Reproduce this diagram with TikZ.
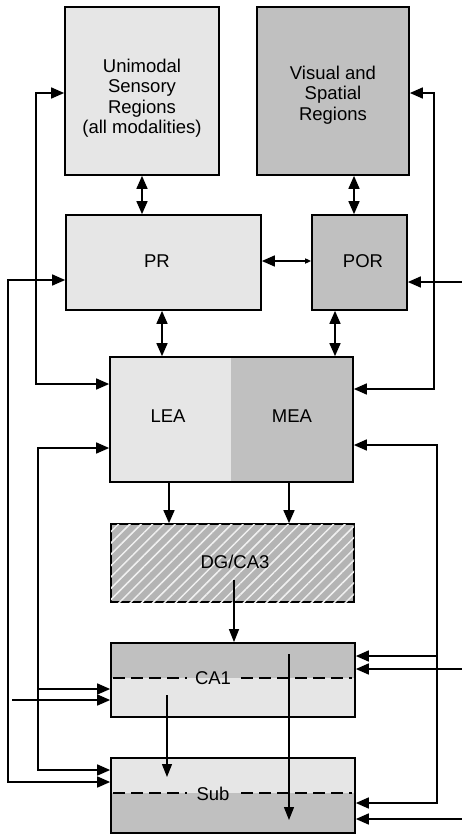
\documentclass[tikz,border=0pt]{standalone}
\usepackage{fontspec}
\setmainfont{Liberation Sans}
\usetikzlibrary{arrows.meta,patterns.meta}
\definecolor{lightg}{HTML}{E6E6E6}
\definecolor{darkg}{HTML}{C0C0C0}
\definecolor{dgg}{HTML}{B4B4B4}
\begin{document}
\begin{tikzpicture}[x=1pt,y=-1pt,
  box/.style={rectangle,draw,line width=1.7pt,inner sep=0pt,line join=miter},
  lbl/.style={font=\fontsize{18.5}{20.5}\selectfont,align=center,inner sep=0pt},
  arr/.style={line width=1.6pt,line join=miter,-{Triangle[length=13pt,width=11pt]}},
  dbl/.style={line width=1.6pt,line join=miter,{Triangle[length=13pt,width=11pt]}-{Triangle[length=13pt,width=11pt]}},
  thinarr/.style={line width=1.2pt,-{Triangle[length=13pt,width=10pt]}},
  dsh/.style={line width=1.3pt,dash pattern=on 12pt off 6pt}]
\fill[white] (0,0) rectangle (462,835);
\useasboundingbox (0,0) rectangle (462,835);
% boxes
\node[box,fill=lightg,minimum width=154pt,minimum height=168pt] (uni) at (142,91) {};
\node[box,fill=darkg,minimum width=152pt,minimum height=168pt] (vis) at (333,91) {};
\node[box,fill=lightg,minimum width=195pt,minimum height=95pt] (pr) at (163.5,262.5) {};
\node[box,fill=darkg,minimum width=95pt,minimum height=95pt] (por) at (359.5,262.5) {};
\fill[lightg] (110,357) rectangle (231,482);
\fill[darkg] (231,357) rectangle (353,482);
\node[box,minimum width=243pt,minimum height=125pt] (ea) at (231.5,419.5) {};
\node[box,fill=dgg,minimum width=243pt,minimum height=78pt,
  postaction={pattern={Lines[angle=45,distance=8pt,line width=1.5pt]},pattern color=white!80!dgg}] (dg) at (232.5,563) {};
\fill[darkg] (111,643) rectangle (355,678);
\fill[lightg] (111,678) rectangle (355,717);
\node[box,minimum width=244pt,minimum height=74pt] (ca1) at (233,680) {};
\fill[lightg] (111,758) rectangle (355,793);
\fill[darkg] (111,793) rectangle (355,833);
\node[box,minimum width=244pt,minimum height=75pt] (sub) at (233,795.5) {};
% dashed dividers
\draw[dsh] (113,678) -- (187,678);
\draw[dsh] (241,678) -- (352,678);
\draw[dsh] (113,793) -- (187,793);
\draw[dsh] (241,793) -- (352,793);
% labels
\node[lbl] (tuni) at (142,98) {Unimodal\\Sensory\\Regions\\(all modalities)};
\node[lbl] (tvis) at (333,95) {Visual and\\Spatial\\Regions};
\node[lbl] (tpr) at (157,261) {PR};
\node[lbl] (tpor) at (363,261) {POR};
\node[lbl] (tlea) at (168,416) {LEA};
\node[lbl] (tmea) at (292,416) {MEA};
\node[lbl] (tdg) at (235,562) {DG/CA3};
\node[lbl] (tca1) at (213,678) {CA1};
\node[lbl] (tsub) at (213,794) {Sub};
% connectors
\draw[dbl] (uni.south -| 142,0) -- (pr.north -| 142,0);
\draw[dbl] (vis.south -| 354,0) -- (por.north -| 354,0);
\draw[line width=1.6pt,{Triangle[length=13pt,width=11pt]}-{Triangle[length=6pt,width=5pt]}] (pr.east |- 0,261) -- (por.west |- 0,261);
\draw[dbl] (pr.south -| 162,0) -- (ea.north -| 162,0);
\draw[dbl] (por.south -| 335,0) -- (ea.north -| 335,0);
\draw[dbl] (uni.west |- 0,93) -- (36,93) -- (36,384) -- (ea.west |- 0,384);
\draw[dbl] (vis.east |- 0,93) -- (434,93) -- (434,389) -- (ea.east |- 0,389);
\draw[dbl] (pr.west |- 0,280) -- (8,280) -- (8,782) -- (sub.west |- 0,782);
\coordinate (inPOR) at (462,282);
\draw[arr] (inPOR) -- (por.east |- inPOR);
\draw[dbl] (ea.west |- 0,448) -- (38,448) -- (38,770) -- (sub.west |- 0,770);
\coordinate (brL) at (38,689);
\draw[arr] (brL) -- (ca1.west |- brL);
\coordinate (inCAl) at (12,700);
\draw[arr] (inCAl) -- (ca1.west |- inCAl);
\draw[dbl] (ea.east |- 0,445) -- (437,445) -- (437,803) -- (sub.east |- 0,803);
\coordinate (brR) at (437,656);
\draw[arr] (brR) -- (ca1.east |- brR);
\coordinate (inCAr) at (462,669);
\draw[arr] (inCAr) -- (ca1.east |- inCAr);
\coordinate (inSub) at (462,819);
\draw[arr] (inSub) -- (sub.east |- inSub);
\draw[arr] (ea.south -| 169,0) -- (dg.north -| 169,0);
\draw[arr] (ea.south -| 289,0) -- (dg.north -| 289,0);
\coordinate (dgo) at (234,580);
\draw[thinarr] (dgo) -- (ca1.north -| dgo);
\coordinate (cao) at (167,695);
\coordinate (subi) at (167,777);
\draw[thinarr] (cao) -- (subi);
\coordinate (cal) at (289,654);
\coordinate (subl) at (289,820);
\draw[thinarr] (cal) -- (subl);
\end{tikzpicture}
\end{document}
